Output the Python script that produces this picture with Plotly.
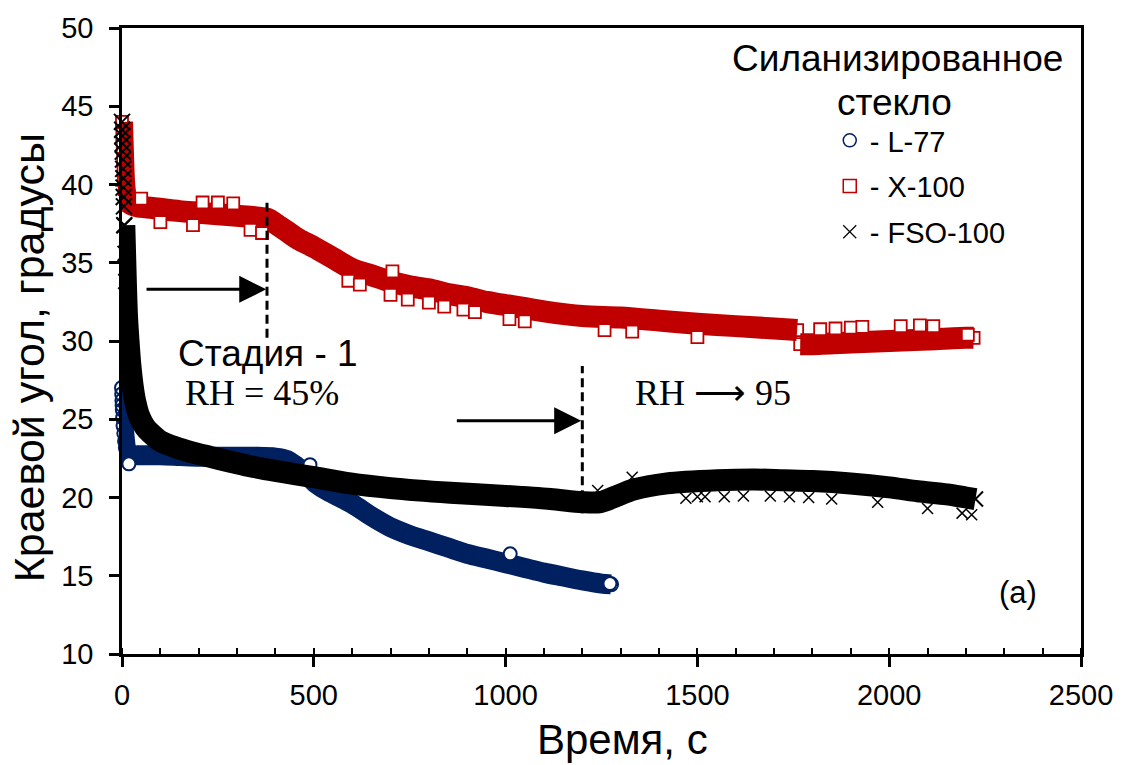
import plotly.graph_objects as go

# ---- L-77 (contact angle, degrees vs time, s) ----
l77_t = [0, 0.5, 1, 1.5, 2, 3, 4, 6, 8, 10, 14, 20, 40, 70, 100, 150, 200, 250, 300, 350,
         400, 430, 455, 480, 505, 530, 560, 600, 650, 700, 750, 800, 850, 900, 950, 1000,
         1050, 1100, 1150, 1200, 1250, 1275]
l77_y = [27.0, 26.6, 26.2, 25.9, 25.6, 25.1, 24.6, 24.1, 23.6, 23.2, 22.9, 22.7, 22.7,
         22.7, 22.7, 22.65, 22.6, 22.6, 22.6, 22.6, 22.55, 22.4, 22.0, 21.5, 20.9, 20.5,
         20.1, 19.6, 18.8, 18.1, 17.6, 17.2, 16.8, 16.4, 16.1, 15.8, 15.5, 15.2, 14.95,
         14.7, 14.5, 14.45]
l77_out_t = [18, 490, 1012, 1272]
l77_out_y = [22.15, 22.1, 16.4, 14.5]

# ---- X-100 ----
x100_t = [0, 1, 2, 3, 4, 5, 7, 10, 20, 40, 80, 150, 200, 250, 300, 350, 380, 400, 430,
          460, 500, 550, 600, 650, 700, 750, 800, 850, 900, 950, 1000, 1100, 1200, 1300,
          1400, 1500, 1600, 1700, 1760, 1768, 1800, 1900, 2000, 2100, 2200, 2220]
x100_y = [44.0, 43.2, 42.4, 41.6, 40.9, 40.3, 39.7, 39.2, 38.8, 38.6, 38.5, 38.3, 38.2,
          38.1, 38.0, 37.9, 37.8, 37.5, 37.0, 36.5, 36.0, 35.3, 34.6, 34.2, 33.8, 33.5,
          33.3, 33.0, 32.8, 32.5, 32.3, 31.9, 31.6, 31.5, 31.3, 31.1, 30.95, 30.8, 30.7,
          29.8, 29.8, 29.9, 30.0, 30.1, 30.2, 30.2]
x100_step = 39  # index where the band drops at ~1765 s
x100_out_t = [50, 210, 250, 290, 100, 185, 335, 365, 590, 620, 705, 700, 745, 800, 840,
              890, 920, 1010, 1050, 1258, 1330, 1500, 1820, 1860, 1900, 1930, 2030, 2080,
              2115, 2205]
x100_out_y = [39.1, 38.85, 38.85, 38.8, 37.6, 37.4, 37.1, 36.9, 33.85, 33.6, 34.45,
              32.95, 32.65, 32.45, 32.2, 32.0, 31.85, 31.4, 31.25, 30.7, 30.6, 30.25, 30.75,
              30.8, 30.85, 30.9, 30.95, 31.0, 30.95, 30.4]

# ---- FSO-100 ----
fso_t = [0, 0.5, 1, 1.5, 2, 2.5, 3, 3.5, 4, 4.5, 5, 6, 8, 10, 13, 17, 22, 28, 34, 45, 60,
         75, 100, 140, 180, 230, 280, 334, 400, 450, 500, 595, 700, 856, 1000, 1117, 1200,
         1247, 1290, 1333, 1421, 1552, 1650, 1725, 1800, 1899, 2000, 2074, 2150, 2200, 2225]
fso_y = [44.0, 43.5, 43.1, 42.6, 42.1, 41.6, 41.0, 40.4, 39.8, 39.2, 38.6, 37.4, 35.6,
         33.8, 31.6, 30.0, 28.4, 27.1, 26.2, 25.2, 24.5, 24.1, 23.6, 23.2, 22.9, 22.6,
         22.3, 22.0, 21.7, 21.5, 21.3, 20.9, 20.6, 20.3, 20.1, 19.9, 19.7, 19.7, 20.1,
         20.5, 20.9, 21.1, 21.15, 21.1, 21.05, 20.9, 20.65, 20.4, 20.2, 20.0, 19.9]
fso_spike = 11  # first readings (t < 6 s) drawn as separate crosses
fso_out_t = [1240, 1330, 1470, 1500, 1520, 1570, 1620, 1690, 1740, 1790, 1850, 1970,
             2100, 2190, 2215]
fso_out_y = [20.45, 21.3, 19.95, 20.05, 20.05, 20.05, 20.1, 20.1, 20.05, 20.0, 19.9, 19.7,
             19.3, 19.0, 18.9]

# axis ticks
x_ticks = [0, 500, 1000, 1500, 2000, 2500]
y_ticks = [10, 15, 20, 25, 30, 35, 40, 45, 50]

NAVY = "#002060"
RED = "#C00000"
BLACK = "#000000"
SANS = "Liberation Sans, Arial, sans-serif"
SERIF = "Liberation Serif, Times New Roman, serif"

fig = go.Figure()


def add_band(t, y, color, symbol, band, msize, mline):
    # dense measurement band
    fig.add_trace(go.Scatter(
        x=t, y=y, mode="lines+markers", cliponaxis=False, showlegend=False,
        line=dict(color=color, width=band, shape="spline", smoothing=0.8),
        marker=dict(symbol=symbol + "-open", size=msize, color=color,
                    line=dict(color=color, width=mline)),
        hoverinfo="skip"))


def add_points(t, y, color, symbol, msize, mline, fill):
    # individual readings
    fig.add_trace(go.Scatter(
        x=t, y=y, mode="markers", cliponaxis=False, showlegend=False,
        marker=dict(symbol=symbol, size=msize, color=fill,
                    line=dict(color=color, width=mline)),
        hoverinfo="skip"))


add_band(l77_t, l77_y, NAVY, "circle", 20, 14, 2)
add_points(l77_out_t, l77_out_y, NAVY, "circle", 13, 2, "white")

add_band(x100_t[:x100_step], x100_y[:x100_step], RED, "square", 22, 12, 1.8)
add_band(x100_t[x100_step:], x100_y[x100_step:], RED, "square", 22, 12, 1.8)
add_points(x100_out_t, x100_out_y, RED, "square", 12, 1.8, "white")

add_points(fso_t[:fso_spike + 1], fso_y[:fso_spike + 1], BLACK, "x-thin", 16, 2, BLACK)
add_band(fso_t[fso_spike:], fso_y[fso_spike:], BLACK, "x-thin", 22, 15, 2)
add_points(fso_out_t, fso_out_y, BLACK, "x-thin", 11, 1.5, BLACK)

# legend entries
for name, color, symbol, lw in [("- L-77", NAVY, "circle-open", 1.5),
                                ("- X-100", RED, "square-open", 1.5),
                                ("- FSO-100", BLACK, "x-thin-open", 1.2)]:
    fig.add_trace(go.Scatter(
        x=[None], y=[None], mode="markers", name=name, legendgroup=name,
        marker=dict(symbol=symbol, size=13, color=color, line=dict(color=color, width=lw))))

# dashed stage markers
fig.add_shape(type="line", x0=378, x1=378, y0=30.2, y1=38.9,
              line=dict(color="black", width=3, dash="9px,5px"))
fig.add_shape(type="line", x0=1200, x1=1200, y0=19.0, y1=28.4,
              line=dict(color="black", width=3, dash="9px,5px"))

# arrows
for x0, x1, yv in [(60, 376, 33.3), (869, 1197, 24.9)]:
    fig.add_annotation(x=x1, y=yv, ax=x0, ay=yv, axref="x", ayref="y", xref="x", yref="y",
                       text="", showarrow=True, arrowhead=2, arrowsize=1.8,
                       arrowwidth=3, arrowcolor="black")

fig.add_annotation(x=381, y=29.2, text="Стадия - 1", showarrow=False,
                   xanchor="center", yanchor="middle",
                   font=dict(family=SANS, size=37, color="black"))
fig.add_annotation(x=365, y=26.7, text="RH = 45%", showarrow=False,
                   xanchor="center", yanchor="middle",
                   font=dict(family=SERIF, size=36, color="black"))
fig.add_annotation(x=1541, y=26.7, text="RH ⟶ 95", showarrow=False,
                   xanchor="center", yanchor="middle",
                   font=dict(family=SERIF, size=36, color="black"))
fig.add_annotation(x=2336, y=13.9, text="(a)", showarrow=False,
                   xanchor="center", yanchor="middle",
                   font=dict(family=SANS, size=31, color="black"))

# legend heading
fig.add_annotation(xref="paper", yref="paper", x=0.809, y=0.951, text="Силанизированное",
                   xanchor="center", yanchor="middle", showarrow=False,
                   font=dict(family=SANS, size=37, color="black"))
fig.add_annotation(xref="paper", yref="paper", x=0.806, y=0.881, text="стекло",
                   xanchor="center", yanchor="middle", showarrow=False,
                   font=dict(family=SANS, size=37, color="black"))

# axis titles
fig.add_annotation(xref="paper", yref="paper", x=0.522, y=-0.137, text="Время, с",
                   xanchor="center", yanchor="middle", showarrow=False,
                   font=dict(family=SANS, size=42, color="black"))
fig.add_annotation(xref="paper", yref="paper", x=-0.097, y=0.474,
                   text="Краевой угол, градусы", textangle=-90,
                   xanchor="center", yanchor="middle", showarrow=False,
                   font=dict(family=SANS, size=43, color="black"))

fig.update_layout(
    width=1127, height=765,
    margin=dict(l=122, r=46, t=22, b=111),
    plot_bgcolor="white", paper_bgcolor="white",
    font=dict(family=SANS, color="black"),
    legend=dict(x=0.738, y=0.861, xanchor="left", yanchor="top",
                bgcolor="rgba(0,0,0,0)", borderwidth=0, tracegroupgap=5,
                font=dict(family=SANS, size=29, color="black")),
    xaxis=dict(range=[0, 2500], tickvals=x_ticks, ticks="outside", ticklen=10,
               tickwidth=2.5, tickcolor="black", showline=True, linewidth=2.5,
               linecolor="black", mirror=True, showgrid=False, zeroline=False,
               ticklabelstandoff=3,
               tickfont=dict(family=SANS, size=29, color="black"),
               minor=dict(dtick=100, ticks="inside", ticklen=6, tickwidth=2,
                          tickcolor="black")),
    yaxis=dict(range=[10, 50], tickvals=y_ticks, ticks="outside", ticklen=10,
               tickwidth=2.5, tickcolor="black", showline=True, linewidth=2.5,
               linecolor="black", mirror=True, showgrid=False, zeroline=False,
               ticklabelstandoff=10,
               tickfont=dict(family=SANS, size=29, color="black")),
)

fig.write_html("out.html")
